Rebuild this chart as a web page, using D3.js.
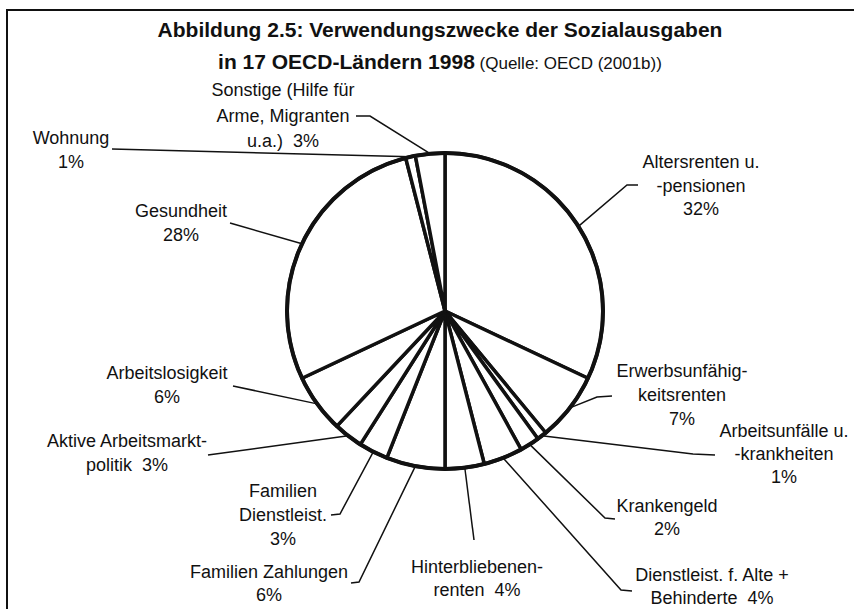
<!DOCTYPE html>
<html>
<head>
<meta charset="utf-8">
<script src="https://cdn.jsdelivr.net/npm/d3@7"></script>
<style>
  body { margin: 0; background: #fff; }
  text { font-family: "Liberation Sans", Arial, sans-serif; fill: #111; white-space: pre; }
</style>
</head>
<body>
<div id="chart"></div>
<script>
// categories, clockwise from 12 o'clock
var categories = [
  "Altersrenten u. -pensionen",
  "Erwerbsunfähigkeitsrenten",
  "Arbeitsunfälle u. -krankheiten",
  "Krankengeld",
  "Dienstleist. f. Alte + Behinderte",
  "Hinterbliebenenrenten",
  "Familien Zahlungen",
  "Familien Dienstleist.",
  "Aktive Arbeitsmarktpolitik",
  "Arbeitslosigkeit",
  "Gesundheit",
  "Wohnung",
  "Sonstige (Hilfe für Arme, Migranten u.a.)"
];
var shares = [32, 7, 1, 2, 4, 4, 6, 3, 3, 6, 28, 1, 3];
// label text as printed, line by line
var labelLines = [
  ["Altersrenten u.", "-pensionen", "32%"],
  ["Erwerbsunfähig-", "keitsrenten", "7%"],
  ["Arbeitsunfälle u.", "-krankheiten", "1%"],
  ["Krankengeld", "2%"],
  ["Dienstleist. f. Alte +", "Behinderte  4%"],
  ["Hinterbliebenen-", "renten  4%"],
  ["Familien Zahlungen", "6%"],
  ["Familien", "Dienstleist.", "3%"],
  ["Aktive Arbeitsmarkt-", "politik  3%"],
  ["Arbeitslosigkeit", "6%"],
  ["Gesundheit", "28%"],
  ["Wohnung", "1%"],
  ["Sonstige (Hilfe für", "Arme, Migranten", "u.a.)  3%"]
];
var titleText = "Abbildung 2.5: Verwendungszwecke der Sozialausgaben";
var subTitleBold = "in 17 OECD-Ländern 1998";
var sourceText = " (Quelle: OECD (2001b))";

// layout: label anchor (x, first baseline), line height, leader path after pie edge
var layout = [
  {x: 701, y: 168, lh: 23.5, leader: [[627, 185], [638, 185]]},
  {x: 682, y: 377, lh: 24, leader: [[597, 397], [612, 396]]},
  {x: 784, y: 437, lh: 23, leader: [[693, 454], [715, 455]]},
  {x: 667, y: 512, lh: 23, leader: [[605, 518], [615, 519]]},
  {x: 712, y: 581, lh: 23, leader: [[621, 590], [632, 591]]},
  {x: 477, y: 573, lh: 23, leader: [[474, 540]]},
  {x: 269, y: 578, lh: 23, leader: [[359, 582], [351, 583]]},
  {x: 283, y: 497, lh: 24, leader: [[340, 514], [331, 515]]},
  {x: 127, y: 447, lh: 24, leader: [[208, 455]]},
  {x: 167, y: 379, lh: 24, leader: [[233, 386]]},
  {x: 181, y: 217, lh: 24, leader: [[230, 223]]},
  {x: 71, y: 144, lh: 24, leader: [[112, 149]]},
  {x: 283, y: 96, lh: 25.5, leader: [[370, 116], [356, 116]]}
];

var cfg = {w: 854, h: 609, cx: 445, cy: 311, r: 158};

var svg = d3.select("#chart")
  .append("svg")
  .attr("width", cfg.w)
  .attr("height", cfg.h);

// frame (only top and left edges are visible in the scan)
svg.append("path")
  .attr("d", "M7," + cfg.h + "V10H" + cfg.w)
  .attr("fill", "none")
  .attr("stroke", "#111")
  .attr("stroke-width", 2);

// title
svg.append("text")
  .attr("x", 440).attr("y", 37)
  .attr("text-anchor", "middle")
  .attr("font-size", "21px")
  .attr("font-weight", "bold")
  .text(titleText);

var sub = svg.append("text")
  .attr("x", 440).attr("y", 69)
  .attr("text-anchor", "middle");
sub.append("tspan").attr("font-size", "21px").attr("font-weight", "bold").text(subTitleBold);
sub.append("tspan").attr("font-size", "17px").text(sourceText);

// pie
var data = categories.map(function(c, i) { return {name: c, value: shares[i], i: i}; });
var pie = d3.pie().sort(null).value(function(d) { return d.value; });
var arcs = pie(data);
var arc = d3.arc().innerRadius(0).outerRadius(cfg.r);
var edge = d3.arc().innerRadius(cfg.r).outerRadius(cfg.r);

var g = svg.append("g")
  .attr("transform", "translate(" + cfg.cx + "," + cfg.cy + ")");

// leader lines
var line = d3.line();
g.selectAll(".leader")
  .data(arcs)
  .enter().append("path")
  .attr("class", "leader")
  .attr("fill", "none")
  .attr("stroke", "#111")
  .attr("stroke-width", 1.5)
  .attr("d", function(d) {
    var p = edge.centroid(d);
    var pts = [p].concat(layout[d.index].leader.map(function(q) { return [q[0] - cfg.cx, q[1] - cfg.cy]; }));
    return line(pts);
  });

g.selectAll(".slice")
  .data(arcs)
  .enter().append("path")
  .attr("class", "slice")
  .attr("d", arc)
  .attr("fill", "#fff")
  .attr("stroke", "#111")
  .attr("stroke-width", 3.5)
  .attr("stroke-linejoin", "round");

g.append("circle")
  .attr("r", cfg.r)
  .attr("fill", "none")
  .attr("stroke", "#111")
  .attr("stroke-width", 4);

// labels
var labels = svg.selectAll(".label")
  .data(arcs)
  .enter().append("text")
  .attr("class", "label")
  .attr("text-anchor", "middle")
  .attr("font-size", "18px");

labels.each(function(d) {
  var L = layout[d.index];
  var t = d3.select(this);
  labelLines[d.index].forEach(function(s, k) {
    t.append("tspan")
      .attr("x", L.x)
      .attr("y", L.y + k * L.lh)
      .text(s);
  });
});
</script>
</body>
</html>
